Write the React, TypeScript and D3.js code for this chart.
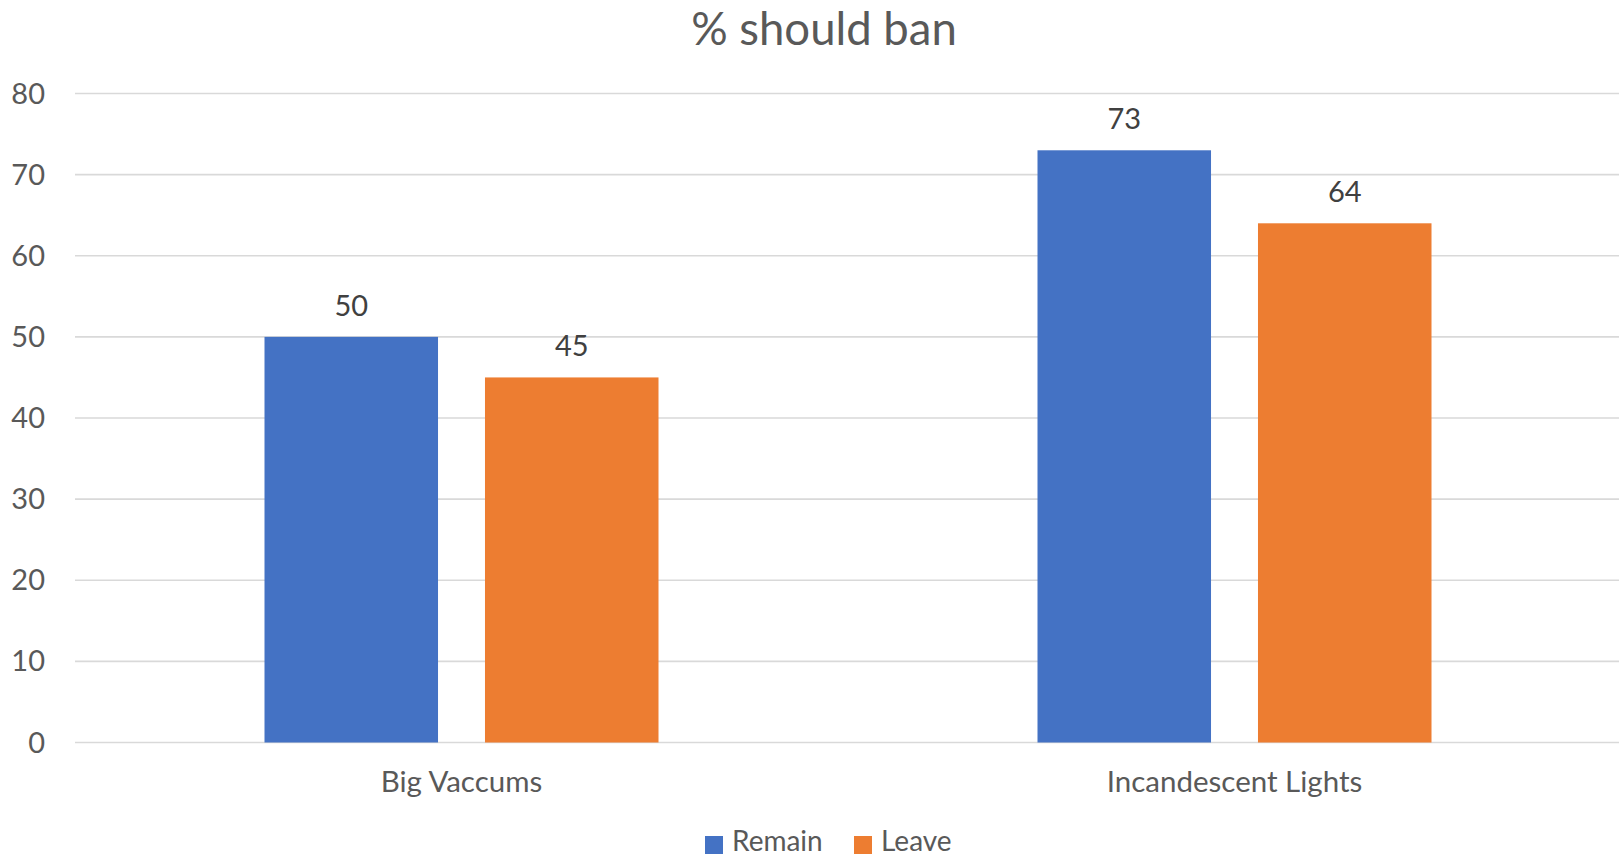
import React from "react";
import * as d3 from "d3";

const categories = ["Big Vaccums", "Incandescent Lights"];
const seriesNames = ["Remain", "Leave"];
const remainValues = [50, 73];
const leaveValues = [45, 64];
const yTicks = [0, 10, 20, 30, 40, 50, 60, 70, 80];
const colors = ["#4472C4", "#ED7D31"];

const W = 1619;
const H = 857;
const FONT = "Lato, 'Open Sans', sans-serif";

export default function App() {
  const seriesValues = [remainValues, leaveValues];
  const x0 = d3.scaleBand<string>().domain(categories).range([75, 1621]).padding(0);
  const groupWidth = 394;
  const x1 = d3.scaleBand<string>().domain(seriesNames).range([0, groupWidth]).paddingInner(0.213).paddingOuter(0);
  const y = d3.scaleLinear().domain([0, 80]).range([742.5, 93.5]);
  const groupOffset = (x0.bandwidth() - groupWidth) / 2;

  return (
    <svg
      width={W}
      height={H}
      style={{ position: "absolute", left: 0, top: 0, display: "block", background: "#fff" }}
      fontFamily={FONT}
    >
      <rect x={0} y={0} width={W} height={H} fill="#fff" />
      <text x={824} y={45} textAnchor="middle" fontSize={45.5} fill="#595959">
        % should ban
      </text>
      {yTicks.map((t) => (
        <g key={t}>
          <line x1={75} x2={W} y1={y(t)} y2={y(t)} stroke="#d9d9d9" strokeWidth={1.6} />
          <text x={45} y={y(t) + 10} textAnchor="end" fontSize={29} fill="#595959">
            {t}
          </text>
        </g>
      ))}
      {categories.map((c, ci) => (
        <g key={c}>
          {seriesNames.map((s, si) => {
            const v = seriesValues[si][ci];
            const bx = (x0(c) as number) + groupOffset + (x1(s) as number);
            const bw = x1.bandwidth();
            return (
              <g key={s}>
                <rect x={bx} y={y(v)} width={bw} height={y(0) - y(v)} fill={colors[si]} />
                <text x={bx + bw / 2} y={y(v) - 21} textAnchor="middle" fontSize={29} fill="#404040">
                  {v}
                </text>
              </g>
            );
          })}
          <text
            x={(x0(c) as number) + x0.bandwidth() / 2}
            y={792}
            textAnchor="middle"
            fontSize={29.5}
            fill="#595959"
          >
            {c}
          </text>
        </g>
      ))}
      {seriesNames.map((s, si) => {
        const lx = si === 0 ? 705 : 854;
        return (
          <g key={s}>
            <rect x={lx} y={836} width={18} height={18} fill={colors[si]} />
            <text x={lx + 27} y={851} fontSize={28} fill="#595959">
              {s}
            </text>
          </g>
        );
      })}
    </svg>
  );
}
